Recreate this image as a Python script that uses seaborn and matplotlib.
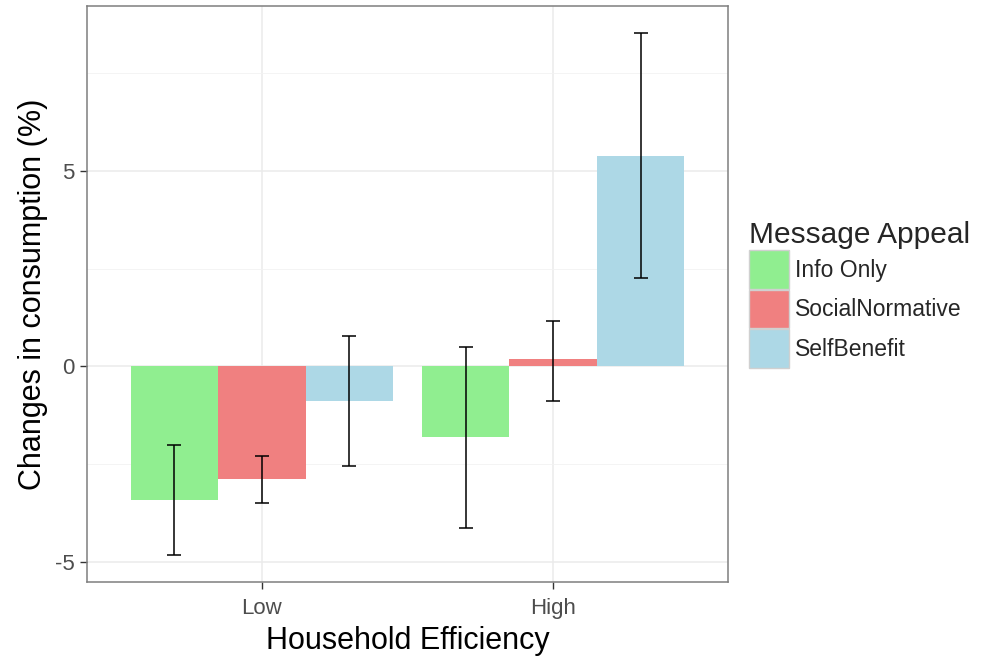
import matplotlib
matplotlib.use("Agg")
import matplotlib.pyplot as plt
from matplotlib.ticker import MultipleLocator
import seaborn as sns
import pandas as pd

# values
efficiency = ["Low", "High"]
appeals = ["Info Only", "SocialNormative", "SelfBenefit"]
colors = ["#90EE90", "#F08080", "#ADD8E6"]

change = {"Info Only": [-3.40, -1.80],
          "SocialNormative": [-2.88, 0.19],
          "SelfBenefit": [-0.87, 5.38]}
lower = {"Info Only": [-4.82, -4.12],
         "SocialNormative": [-3.49, -0.87],
         "SelfBenefit": [-2.54, 2.27]}
upper = {"Info Only": [-2.00, 0.50],
         "SocialNormative": [-2.28, 1.16],
         "SelfBenefit": [0.78, 8.50]}

rows = []
for a in appeals:
    for i, e in enumerate(efficiency):
        rows.append({"efficiency": e, "appeal": a, "change": change[a][i],
                     "lower": lower[a][i], "upper": upper[a][i]})
df = pd.DataFrame(rows)

sns.set_theme(style="white")
plt.rcParams['font.family'] = ['Liberation Sans', 'DejaVu Sans']
plt.rcParams['axes.unicode_minus'] = False

fig = plt.figure(figsize=(9.81, 6.59), dpi=100)
ax = fig.add_axes([87 / 981, 1 - 582 / 659, (728 - 87) / 981, (582 - 6) / 659])

sns.barplot(data=df, x="efficiency", y="change", hue="appeal",
            order=efficiency, hue_order=appeals, palette=colors,
            width=0.9, saturation=1, errorbar=None, linewidth=0,
            ax=ax, zorder=2)

# error bars on top of the dodged bars
for cont, a in zip(ax.containers, appeals):
    sub = df[df.appeal == a].set_index("efficiency").loc[efficiency]
    xs = [b.get_x() + b.get_width() / 2 for b in cont]
    ys = sub["change"].values
    ax.errorbar(xs, ys, yerr=[ys - sub["lower"].values, sub["upper"].values - ys],
                fmt="none", ecolor="black", elinewidth=1.1, capsize=4.7,
                capthick=1.1, zorder=3)

ax.set_xlim(-0.6, 1.6)
ax.set_ylim(-5.5, 9.2)
ax.yaxis.set_major_locator(MultipleLocator(5))
ax.yaxis.set_minor_locator(MultipleLocator(2.5))

ax.set_axisbelow(True)
ax.grid(which="major", color="#EBEBEB", linewidth=1.1)
ax.grid(which="minor", axis="y", color="#F2F2F2", linewidth=0.6)
for s in ax.spines.values():
    s.set_visible(True)
    s.set_color("#7F7F7F")
    s.set_linewidth(1.1)

ax.tick_params(axis="both", which="major", bottom=True, left=True, length=5,
               width=1.0, color="#333333", labelsize=16, labelcolor="#4D4D4D")
ax.tick_params(axis="x", which="major", pad=6.5)
ax.tick_params(axis="y", which="major", pad=4)
ax.tick_params(axis="y", which="minor", length=0)

ax.set_xlabel("Household Efficiency", fontsize=22, color="black", labelpad=5)
ax.set_ylabel("Changes in consumption (%)", fontsize=22, color="black", labelpad=5)

ax.get_legend().remove()
leg = ax.legend(title="Message Appeal", loc="upper left",
                bbox_to_anchor=(749 / 981, 1 - 221 / 659), bbox_transform=fig.transFigure,
                frameon=False, fontsize=16.5, title_fontsize=21.5,
                handlelength=1.75, handleheight=2.2, handletextpad=0.25,
                labelspacing=0.05, borderpad=0, borderaxespad=0, alignment="left")
for p in leg.get_patches():
    p.set_edgecolor("#D0D0D0")
    p.set_linewidth(1.0)

fig.savefig("out.png", dpi=100)
